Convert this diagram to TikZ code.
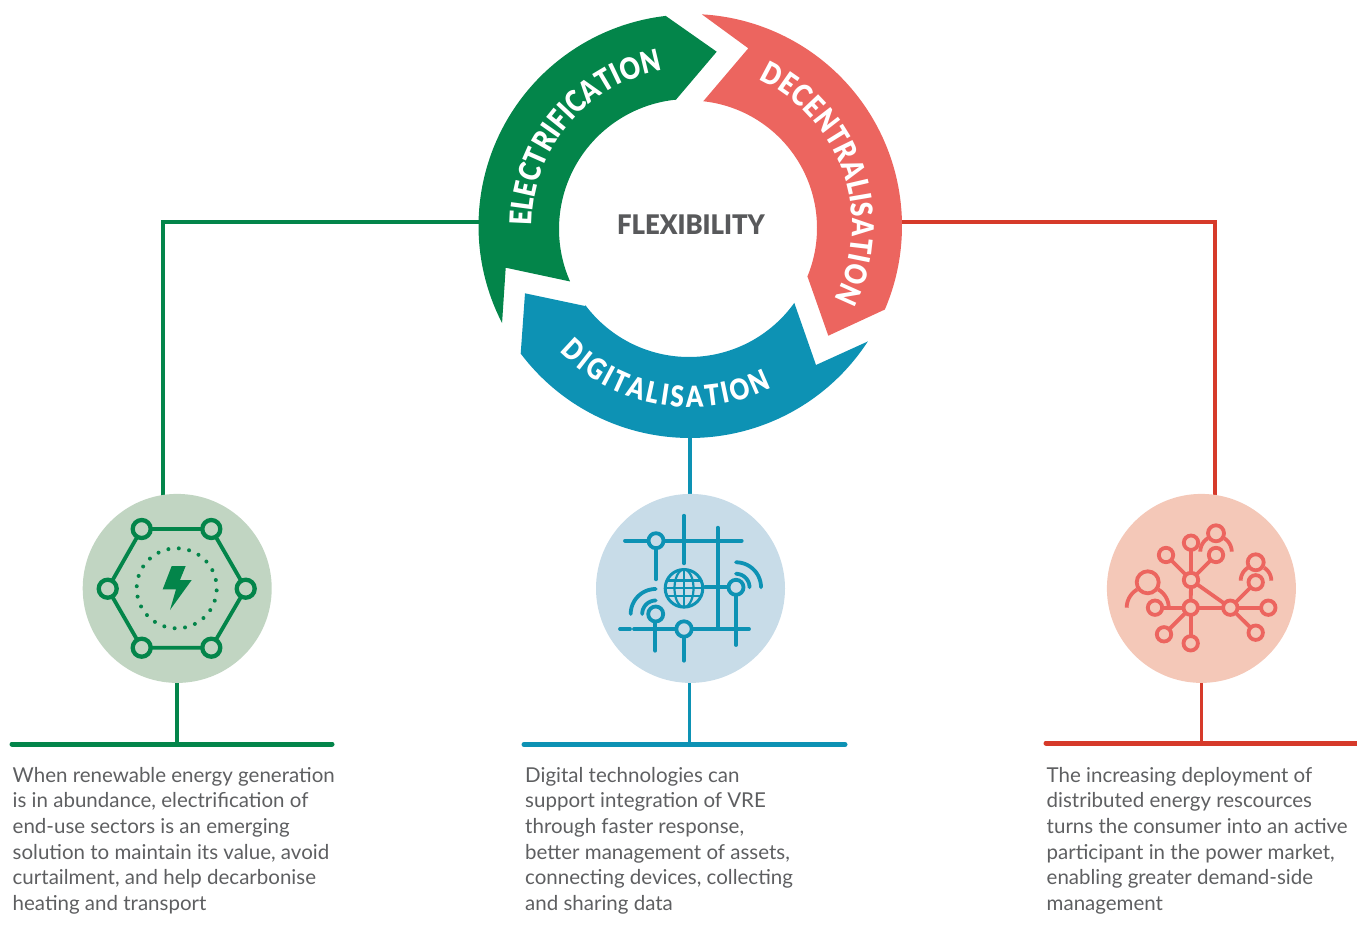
\documentclass[tikz,border=0pt]{standalone}
\usepackage{fontspec}
\usetikzlibrary{decorations.text}
\setmainfont{Lato}
\newfontfamily\bodyfont{Lato}
\newfontfamily\headfont[FakeStretch=0.95]{Lato Black}
\newfontfamily\ringface[FakeStretch=0.84]{Lato Black}
\definecolor{cgreen}{HTML}{03854A}
\definecolor{cred}{HTML}{EC655F}
\definecolor{cblue}{HTML}{0D92B4}
\definecolor{lred}{HTML}{D63A2A}
\definecolor{bggreen}{HTML}{C1D5C2}
\definecolor{bgblue}{HTML}{C8DCE8}
\definecolor{bgred}{HTML}{F4C8B8}
\definecolor{txt}{HTML}{5E5F61}
\definecolor{headtxt}{HTML}{58595B}
\tikzset{
  disc/.style={circle,inner sep=0pt,minimum size=189pt,fill=#1},
  para/.style={anchor=north west,inner sep=0pt,align=left,text=txt,font=\bodyfont\fontsize{20.5}{25.6}\selectfont},
  link/.style={line width=3.6pt,color=#1},
  bar/.style={line width=5pt,color=#1,line cap=round},
  ic/.style={line width=3.8pt,color=#1,line cap=round},
}
\newcommand{\ringfont}{\ringface\fontsize{30}{30}\selectfont\color{white}}
\newcommand{\ringfontb}{\ringface\fontsize{29}{29}\selectfont\color{white}}
\begin{document}
\begin{tikzpicture}[x=1pt,y=-1pt]
\useasboundingbox (0,0) rectangle (1357,934);
% connector ends
\coordinate (gl) at (480,222); \coordinate (gc) at (163,222); \coordinate (gd) at (163,497);
\coordinate (rl) at (901,222); \coordinate (rc) at (1215,222); \coordinate (rd) at (1215,497);
\coordinate (bl) at (690,436); \coordinate (bd) at (690,497);
\coordinate (b1a) at (12,744); \coordinate (b1b) at (332,744); \coordinate (b1m) at (177.2,744);
\coordinate (b2a) at (524,744.5); \coordinate (b2b) at (845,744.5); \coordinate (b2m) at (689.5,744.5);
\coordinate (b3a) at (1046,743); \coordinate (b3b) at (1360,743); \coordinate (b3m) at (1201.4,743);
\draw[link=cgreen] (gl) -- (gc) -- (gd);
\draw[link=lred] (rl) -- (rc) -- (rd);
\draw[link=cblue] (bl) -- (bd);
% discs
\node[disc=bggreen] (c1) at (177.2,588.4) {};
\node[disc=bgblue] (c2) at (690.5,588.4) {};
\node[disc=bgred] (c3) at (1201.4,588.4) {};
\draw[link=cgreen] (c1.south) -- (b1m);
\draw[link=cblue] (c2.south -| b2m) -- (b2m);
\draw[link=lred] (c3.south) -- (b3m);
\draw[bar=cgreen] (b1a) -- (b1b);
\draw[bar=cblue] (b2a) -- (b2b);
\draw[bar=lred] (b3a) -- (b3b);
% ring
\fill[cgreen] plot[domain=152.7:263.4,samples=90] ({690+211.5*cos(\x)},{226+211.5*sin(\x)})
  -- (716.7,51.7) -- (675.7,100)
  -- plot[domain=264.1:156.2,samples=90] ({689+130*cos(\x)},{229+130*sin(\x)})
  -- (505.7,267.7) -- cycle;
\fill[cred] plot[domain=-86.8:23.2,samples=90] ({690+212*cos(\x)},{226+212*sin(\x)})
  -- (828.3,335.7) -- (807.3,276)
  -- plot[domain=22.2:-83.8,samples=90] ({689.5+127.5*cos(\x)},{228+127.5*sin(\x)})
  -- (748.3,48.3) -- cycle;
\fill[cblue] plot[domain=33:143,samples=90] ({690+212*cos(\x)},{226+212*sin(\x)})
  -- (525,293.3) -- (585,306)
  -- plot[domain=143.1:35.6,samples=90] ({689+129.5*cos(\x)},{227.5+129.5*sin(\x)})
  -- (816,365) -- cycle;
% ring text
\path[decorate,decoration={text along path,text align={fit to path},text={|\ringfont|ELECTRIFICATION }}]
  plot[domain=180:260,samples=80] ({690+158*cos(\x)},{226+158*sin(\x)});
\path[decorate,decoration={text along path,text align={fit to path},text={|\ringfont|DECENTRALISATION }}]
  plot[domain=-65:27,samples=80] ({690+162*cos(\x)},{226+162*sin(\x)});
\path[decorate,decoration={text along path,text align={fit to path},text={|\ringfontb|DIGITALISATION }}]
  plot[domain=136:63,samples=80] ({690+181*cos(\x)},{226+181*sin(\x)});
\node[text=headtxt,font=\headfont\fontsize{27}{27}\selectfont,inner sep=0pt] (flex) at (691,225) {FLEXIBILITY};
% green icon
\coordinate (h1) at (141.7,529); \coordinate (h2) at (211.3,529); \coordinate (h3) at (245.7,588.7);
\coordinate (h4) at (211.3,647.7); \coordinate (h5) at (141.7,647.7); \coordinate (h6) at (107.7,588.7);
\draw[ic=cgreen,line join=round] (h1) -- (h2) -- (h3) -- (h4) -- (h5) -- (h6) -- cycle;
\foreach \p in {h1,h2,h3,h4,h5,h6}
  \draw[ic=cgreen,line width=4.3pt,fill=bggreen] (\p) circle[radius=9pt];
\foreach \a in {0,...,23}
  \fill[cgreen] ({176.7+40*cos(-87+15*\a)},{588.3+40*sin(-87+15*\a)}) circle[radius=2pt];
\fill[cgreen] (171.7,566) -- (185.7,566) -- (180,580) -- (191.7,580) -- (170,610) -- (176,589.3) -- (162.7,589.3) -- cycle;
% blue icon
\begin{scope}[ic=cblue]
\draw (625,540.7) -- (741.7,540.7);
\draw (684,515.7) -- (684,563.3);
\draw (717.7,527.7) -- (717.7,629);
\draw (634,629) -- (749,629);
\draw (620,629) -- (630,629);
\draw (656,548) -- (656,579.3);
\draw (705,587.3) -- (728,587.3);
\draw (736,595) -- (736,645);
\draw (655.3,621.7) -- (655.3,650.7);
\draw (684,637.7) -- (684,660.7);
\draw[fill=bgblue] (656,540.7) circle[radius=7.5pt];
\draw[fill=bgblue] (736,587.3) circle[radius=7.5pt];
\draw[fill=bgblue] (655.7,614) circle[radius=7.5pt];
\draw[fill=bgblue] (684,629) circle[radius=7.7pt];
\draw plot[domain=180:270,samples=20] ({655.7+13.5*cos(\x)},{614+13.5*sin(\x)});
\draw plot[domain=180:270,samples=30] ({655.7+25*cos(\x)},{614+25*sin(\x)});
\draw plot[domain=270:360,samples=20] ({736+13.5*cos(\x)},{587.3+13.5*sin(\x)});
\draw plot[domain=270:360,samples=30] ({736+25*cos(\x)},{587.3+25*sin(\x)});
\draw[line width=3pt] (684,588.3) circle[radius=18.8pt];
\draw[line width=2.2pt,line cap=butt] (684,569.5) -- (684,607.1);
\draw[line width=2.2pt] plot[domain=0:360,samples=50] ({684+9.5*cos(\x)},{588.3+18.8*sin(\x)});
\draw[line width=2.2pt,line cap=butt] (665.2,588.3) -- (702.8,588.3);
\draw[line width=2.2pt,line cap=butt] (668,580.5) -- (700,580.5);
\draw[line width=2.2pt,line cap=butt] (668,596.1) -- (700,596.1);
\end{scope}
% red icon
\begin{scope}[ic=cred]
\coordinate (n1) at (1191,580); \coordinate (n2) at (1190.7,607.7); \coordinate (n3) at (1230.3,607.7);
\coordinate (l1) at (1191,542.7); \coordinate (l2) at (1166,555); \coordinate (l3) at (1216,555);
\coordinate (l4) at (1255.7,582.3); \coordinate (l5) at (1268.3,607.7); \coordinate (l6) at (1255.7,632.7);
\coordinate (l7) at (1155,607.7); \coordinate (l8) at (1164,634.3); \coordinate (l9) at (1190.7,643.3);
% people
\draw[line cap=butt] plot[domain=180:238,samples=20] ({1216+15.7*cos(\x)},{551.7+15.7*sin(\x)});
\draw[line cap=butt] plot[domain=302:360,samples=20] ({1216+15.7*cos(\x)},{551.7+15.7*sin(\x)});
\draw[line cap=butt] plot[domain=180:238,samples=20] ({1256+15.3*cos(\x)},{580.7+15.3*sin(\x)});
\draw[line cap=butt] plot[domain=302:360,samples=20] ({1256+15.3*cos(\x)},{580.7+15.3*sin(\x)});
\draw[line cap=butt] plot[domain=180:240,samples=20] ({1147.7+21*cos(\x)},{607.7+21*sin(\x)});
\draw[line cap=butt] plot[domain=300:360,samples=20] ({1147.7+21*cos(\x)},{607.7+21*sin(\x)});
\draw[fill=bgred] (1216,533.3) circle[radius=8pt];
\draw[fill=bgred] (1255.7,562.3) circle[radius=8pt];
\draw[fill=bgred] (1147.7,582.3) circle[radius=11pt];
\foreach \a/\b in {n1/n2,n1/n3,n2/n3,n1/l1,n1/l2,n1/l3,n3/l4,n3/l5,n3/l6,n2/l7,n2/l8,n2/l9}
  \draw (\a) -- (\b);
\foreach \p in {n1,n2,n3,l1,l2,l3,l4,l5,l6,l7,l8,l9}
  \draw[fill=bgred] (\p) circle[radius=7.2pt];
\end{scope}
% paragraphs
\node[para] (t1) at (12.5,767) {When renewable energy generation\\is in abundance, electrification of\\end-use sectors is an emerging\\solution to maintain its value, avoid\\curtailment, and help decarbonise\\heating and transport};
\node[para] (t2) at (525,767) {Digital technologies can\\support integration of VRE\\through faster response,\\better management of assets,\\connecting devices, collecting\\and sharing data};
\node[para] (t3) at (1046.5,767) {The increasing deployment of\\distributed energy rescources\\turns the consumer into an active\\participant in the power market,\\enabling greater demand-side\\management};
\end{tikzpicture}
\end{document}
